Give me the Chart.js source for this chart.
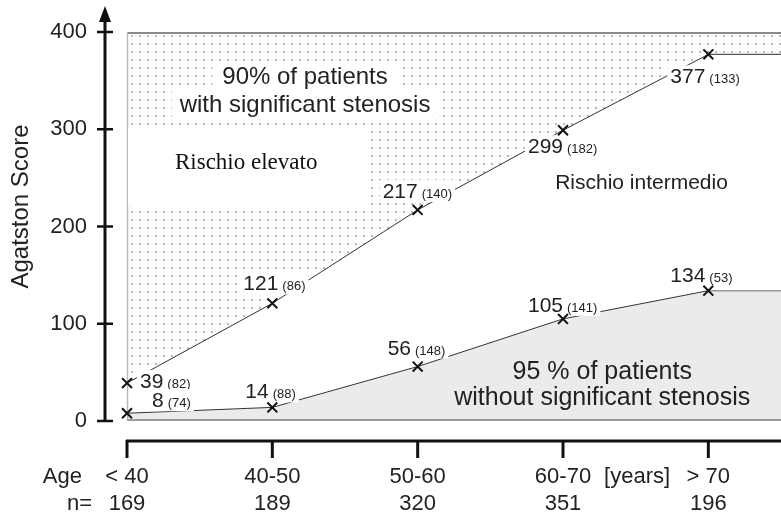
<!DOCTYPE html>
<html>
<head>
<meta charset="utf-8">
<script src="https://cdn.jsdelivr.net/npm/chart.js@4.4.1/dist/chart.umd.min.js"></script>
<style>
  html, body { margin: 0; padding: 0; background: #fff; }
  #wrap { width: 781px; height: 516px; }
</style>
</head>
<body>
<div id="wrap"><canvas id="c" width="781" height="516"></canvas></div>
<script>
// ---- data ----
const categories = ['< 40', '40-50', '50-60', '60-70', '> 70'];
const nPatients = ['169', '189', '320', '351', '196'];
const upperScores = [39, 121, 217, 299, 377];
const upperCounts = [82, 86, 140, 182, 133];
const lowerScores = [8, 14, 56, 105, 134];
const lowerCounts = [74, 88, 148, 141, 53];
const yTickValues = [0, 100, 200, 300, 400];

// ---- styling / placement (not data) ----
const SANS = '"Liberation Sans", Arial, Helvetica, sans-serif';
const SERIF = '"Liberation Serif", "Times New Roman", serif';
const X_MAX = 4.5;
const upperLabelOffsets = [[13, 5], [-29, -13], [-35, -12], [-35, 23], [-38, 29]];
const lowerLabelOffsets = [[25, -6], [-27, -9], [-30, -12], [-35, -7], [-38, -9]];

function pts(values) {
  return values.map((v, i) => ({ x: i, y: v }));
}
function tail(values) {
  const last = values.length - 1;
  return [{ x: last, y: values[last] }, { x: X_MAX, y: values[last] }];
}
function extended(values) {
  return pts(values).concat([{ x: X_MAX, y: values[values.length - 1] }]);
}

const canvas = document.getElementById('c');
const ctx0 = canvas.getContext('2d');
// dotted pattern for upper region
const pc = document.createElement('canvas');
pc.width = 8; pc.height = 8;
const pg = pc.getContext('2d');
pg.fillStyle = '#ffffff'; pg.fillRect(0, 0, 8, 8);
pg.fillStyle = '#b8b8b8'; pg.fillRect(3, 3, 2, 2);
pg.fillStyle = '#e6e6e6'; pg.fillRect(7, 3, 1, 1); pg.fillRect(3, 7, 1, 1);
const dotPattern = ctx0.createPattern(pc, 'repeat');

function drawPointLabels(ctx, chart, values, counts, offsets) {
  const xs = chart.scales.x, ys = chart.scales.y;
  values.forEach((v, i) => {
    const px = xs.getPixelForValue(i), py = ys.getPixelForValue(v);
    const x0 = px + offsets[i][0], yb = py + offsets[i][1];
    const main = String(v), paren = '(' + counts[i] + ')';
    ctx.font = '21px ' + SANS;
    const w1 = ctx.measureText(main).width;
    ctx.font = '13px ' + SANS;
    const w2 = ctx.measureText(paren).width;
    ctx.fillStyle = '#ffffff';
    ctx.fillRect(x0 - 3, yb - 18, w1 + 4 + w2 + 6, 22);
    ctx.fillStyle = '#222';
    ctx.textBaseline = 'alphabetic';
    ctx.textAlign = 'left';
    ctx.font = '21px ' + SANS;
    ctx.fillText(main, x0, yb);
    ctx.font = '13px ' + SANS;
    ctx.fillText(paren, x0 + w1 + 4, yb);
  });
}

function textBoxed(ctx, text, cx, cy, font, padX, h) {
  ctx.font = font;
  const w = ctx.measureText(text).width;
  ctx.fillStyle = '#fff';
  ctx.fillRect(cx - w / 2 - padX, cy - h / 2, w + 2 * padX, h);
  ctx.fillStyle = '#222';
  ctx.textAlign = 'center';
  ctx.textBaseline = 'middle';
  ctx.fillText(text, cx, cy);
}

const overlayPlugin = {
  id: 'overlay',
  afterDatasetDraw(chart, args) {
    if (args.index !== 0) return;
    const ctx = chart.ctx, a = chart.chartArea;
    const xs = chart.scales.x, ys = chart.scales.y;
    ctx.save();
    // frame
    ctx.strokeStyle = '#8a8a8a'; ctx.lineWidth = 2;
    ctx.beginPath(); ctx.moveTo(a.left, a.top + 1); ctx.lineTo(a.right, a.top + 1); ctx.stroke();
    ctx.strokeStyle = '#b8b8b8'; ctx.lineWidth = 1.5;
    ctx.beginPath(); ctx.moveTo(a.left + 0.5, a.top); ctx.lineTo(a.left + 0.5, a.bottom); ctx.stroke();
    ctx.strokeStyle = '#9a9a9a'; ctx.lineWidth = 2;
    ctx.beginPath(); ctx.moveTo(a.left, a.bottom - 1); ctx.lineTo(a.right, a.bottom - 1); ctx.stroke();

    // white box behind "Rischio elevato"
    const bx0 = xs.getPixelForValue(0), bx1 = xs.getPixelForValue(1.67);
    const by0 = ys.getPixelForValue(300), by1 = ys.getPixelForValue(222);
    ctx.fillStyle = '#fff';
    ctx.fillRect(bx0 + 1, by0, bx1 - bx0, by1 - by0);
    ctx.fillStyle = '#111';
    ctx.font = '23px ' + SERIF;
    ctx.textAlign = 'center'; ctx.textBaseline = 'middle';
    ctx.fillText('Rischio elevato', xs.getPixelForValue(0.82), ys.getPixelForValue(265));

    // upper region text
    textBoxed(ctx, '90% of patients', xs.getPixelForValue(1.225), ys.getPixelForValue(353), '24px ' + SANS, 10, 28);
    textBoxed(ctx, 'with significant stenosis', xs.getPixelForValue(1.225), ys.getPixelForValue(325), '24px ' + SANS, 8, 28);

    // middle region text
    ctx.fillStyle = '#222';
    ctx.font = '21px ' + SANS;
    ctx.textAlign = 'left'; ctx.textBaseline = 'middle';
    ctx.fillText('Rischio intermedio', xs.getPixelForValue(2.946), ys.getPixelForValue(245));

    // lower region text
    ctx.font = '25px ' + SANS;
    ctx.textAlign = 'center';
    ctx.fillText('95 % of patients', xs.getPixelForValue(3.27), ys.getPixelForValue(50.5));
    ctx.fillText('without significant stenosis', xs.getPixelForValue(3.27), ys.getPixelForValue(23.5));

    // point labels
    drawPointLabels(ctx, chart, upperScores, upperCounts, upperLabelOffsets);
    drawPointLabels(ctx, chart, lowerScores, lowerCounts, lowerLabelOffsets);
    ctx.restore();
  },
  afterDraw(chart) {
    const ctx = chart.ctx, a = chart.chartArea;
    const xs = chart.scales.x, ys = chart.scales.y;
    ctx.save();
    // y axis with arrow
    const ax = a.left - 22;
    ctx.strokeStyle = '#111'; ctx.fillStyle = '#111';
    ctx.lineWidth = 3;
    ctx.beginPath(); ctx.moveTo(ax, ys.getPixelForValue(0)); ctx.lineTo(ax, 20); ctx.stroke();
    ctx.beginPath(); ctx.moveTo(ax, 6); ctx.lineTo(ax - 6, 22); ctx.lineTo(ax + 6, 22); ctx.closePath(); ctx.fill();
    ctx.lineWidth = 2.5;
    yTickValues.forEach(v => {
      const py = ys.getPixelForValue(v);
      ctx.beginPath(); ctx.moveTo(ax - 8, py); ctx.lineTo(ax + 8, py); ctx.stroke();
    });
    // x axis
    const yy = a.bottom + 20;
    ctx.lineWidth = 3;
    ctx.beginPath(); ctx.moveTo(a.left - 1, yy); ctx.lineTo(a.right, yy); ctx.stroke();
    categories.forEach((c, i) => {
      const px = xs.getPixelForValue(i);
      ctx.beginPath(); ctx.moveTo(px, yy - 1); ctx.lineTo(px, yy + 17); ctx.stroke();
    });
    // y axis title
    ctx.fillStyle = '#222';
    ctx.save();
    ctx.translate(21, (ys.getPixelForValue(300) + ys.getPixelForValue(100)) / 2 - 20);
    ctx.rotate(-Math.PI / 2);
    ctx.font = '24px ' + SANS;
    ctx.textAlign = 'center'; ctx.textBaseline = 'middle';
    ctx.fillText('Agatston Score', 0, 0);
    ctx.restore();
    // axis side texts
    ctx.font = '22px ' + SANS;
    ctx.textBaseline = 'middle';
    ctx.textAlign = 'right';
    ctx.fillText('Age', a.left - 45, 477);
    ctx.fillText('n=', a.left - 35, 504);
    ctx.textAlign = 'center';
    ctx.fillText('[years]', xs.getPixelForValue(3.51), 477);
    ctx.restore();
  }
};

function zeroPad(s) {
  s.paddingTop = 0; s.paddingBottom = 0; s.paddingLeft = 0; s.paddingRight = 0;
}

const markerStyle = {
  showLine: false,
  pointStyle: 'crossRot',
  pointRadius: 7,
  pointBorderWidth: 2,
  pointBorderColor: '#111',
  clip: false,
  order: 0
};

new Chart(canvas, {
  type: 'line',
  data: {
    datasets: [
      { label: 'upper line', data: pts(upperScores), borderColor: '#333', borderWidth: 1, pointRadius: 0, fill: false, order: 1 },
      { label: 'lower line', data: pts(lowerScores), borderColor: '#333', borderWidth: 1, pointRadius: 0, fill: false, order: 1 },
      { label: 'upper tail', data: tail(upperScores), borderColor: '#555', borderWidth: 1.2, pointRadius: 0, fill: false, order: 1 },
      { label: 'lower tail', data: tail(lowerScores), borderColor: '#999', borderWidth: 1.5, pointRadius: 0, fill: false, order: 1 },
      { label: 'upper area', data: extended(upperScores), borderWidth: 0, pointRadius: 0, fill: 'end', backgroundColor: dotPattern, order: 2 },
      { label: 'lower area', data: extended(lowerScores), borderWidth: 0, pointRadius: 0, fill: 'origin', backgroundColor: '#ebebeb', order: 2 },
      Object.assign({ label: 'upper points', data: pts(upperScores) }, markerStyle),
      Object.assign({ label: 'lower points', data: pts(lowerScores) }, markerStyle)
    ]
  },
  options: {
    responsive: false,
    animation: false,
    events: [],
    layout: { autoPadding: false, padding: { top: 32, right: 0, left: 0, bottom: 0 } },
    plugins: { legend: { display: false }, tooltip: { enabled: false } },
    scales: {
      x: {
        type: 'linear',
        min: 0,
        max: X_MAX,
        grid: { display: false, drawTicks: false },
        border: { display: false },
        afterBuildTicks: s => { s.ticks = categories.map((c, i) => ({ value: i })); },
        afterFit: s => { s.height = 95; zeroPad(s); },
        ticks: {
          padding: 43,
          color: '#222',
          font: { family: SANS, size: 22, lineHeight: 1.22 },
          maxRotation: 0,
          autoSkip: false,
          callback: v => [categories[v], nPatients[v]]
        }
      },
      y: {
        min: 0,
        max: 400,
        grid: { display: false, drawTicks: false },
        border: { display: false },
        afterBuildTicks: s => { s.ticks = yTickValues.map(v => ({ value: v })); },
        afterFit: s => { s.width = 127; zeroPad(s); },
        ticks: {
          padding: 40,
          color: '#222',
          font: { family: SANS, size: 22 }
        },
        title: { display: false, text: 'Agatston Score' }
      }
    }
  },
  plugins: [overlayPlugin]
});
</script>
</body>
</html>
